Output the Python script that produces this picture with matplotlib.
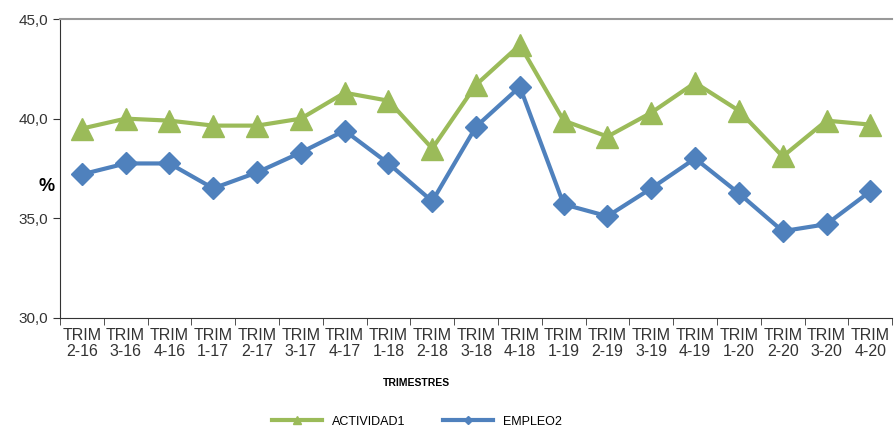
import numpy as np
import matplotlib.pyplot as plt

plt.rcParams['font.family'] = ['Liberation Sans', 'DejaVu Sans']

# quarters (Trimestres)
periodos = ['2-16', '3-16', '4-16', '1-17', '2-17', '3-17', '4-17', '1-18', '2-18', '3-18',
            '4-18', '1-19', '2-19', '3-19', '4-19', '1-20', '2-20', '3-20', '4-20']
actividad = [39.5, 40.0, 39.9, 39.65, 39.65, 40.0, 41.3, 40.9, 38.5, 41.7,
             43.7, 39.9, 39.1, 40.3, 41.8, 40.4, 38.1, 39.9, 39.7]
empleo = [37.2, 37.75, 37.75, 36.5, 37.3, 38.3, 39.4, 37.75, 35.85, 39.6,
          41.6, 35.7, 35.1, 36.5, 38.0, 36.25, 34.35, 34.7, 36.35]
tick_labels = ['TRIM\n' + p for p in periodos]

fig = plt.figure(figsize=(8.94, 4.33), dpi=100)
ax = fig.add_axes([0.067, 0.266, 0.931, 0.690])

x = np.arange(len(periodos))
ax.plot(x, actividad, color='#9BBB59', lw=3, marker='^', ms=16, label='ACTIVIDAD1')
ax.plot(x, empleo, color='#4F81BD', lw=3, marker='D', ms=11, label='EMPLEO2')

ax.set_xlim(-0.5, len(periodos) - 0.5)
ax.set_ylim(30, 45)
ax.set_yticks([30, 35, 40, 45])
ax.set_yticklabels(['30,0', '35,0', '40,0', '45,0'], fontsize=11, color='#333333')
ax.set_xticks(x)
ax.set_xticklabels(tick_labels, fontsize=11.5, color='#333333', linespacing=1.15)
ax.set_xticks(np.arange(len(periodos) + 1) - 0.5, minor=True)
ax.tick_params(axis='x', which='major', length=0, pad=7)
ax.tick_params(axis='x', which='minor', length=5, color='#333333')
ax.tick_params(axis='y', length=5, color='#333333')

ax.spines['right'].set_visible(False)
ax.spines['top'].set_color('#999999')
ax.spines['top'].set_linewidth(1.5)
ax.spines['left'].set_color('#333333')
ax.spines['bottom'].set_color('#333333')

fig.text(0.052, 0.57, '%', fontsize=13, fontweight='bold', ha='center', va='center')
fig.text(0.466, 0.115, 'TRIMESTRES', fontsize=7.5, fontweight='bold', ha='center', va='center')

leg = fig.legend(loc='center', bbox_to_anchor=(0.466, 0.026), ncol=2, frameon=False,
                 fontsize=9, handlelength=4, columnspacing=3, markerscale=0.4)

fig.savefig('out.png', dpi=100)
